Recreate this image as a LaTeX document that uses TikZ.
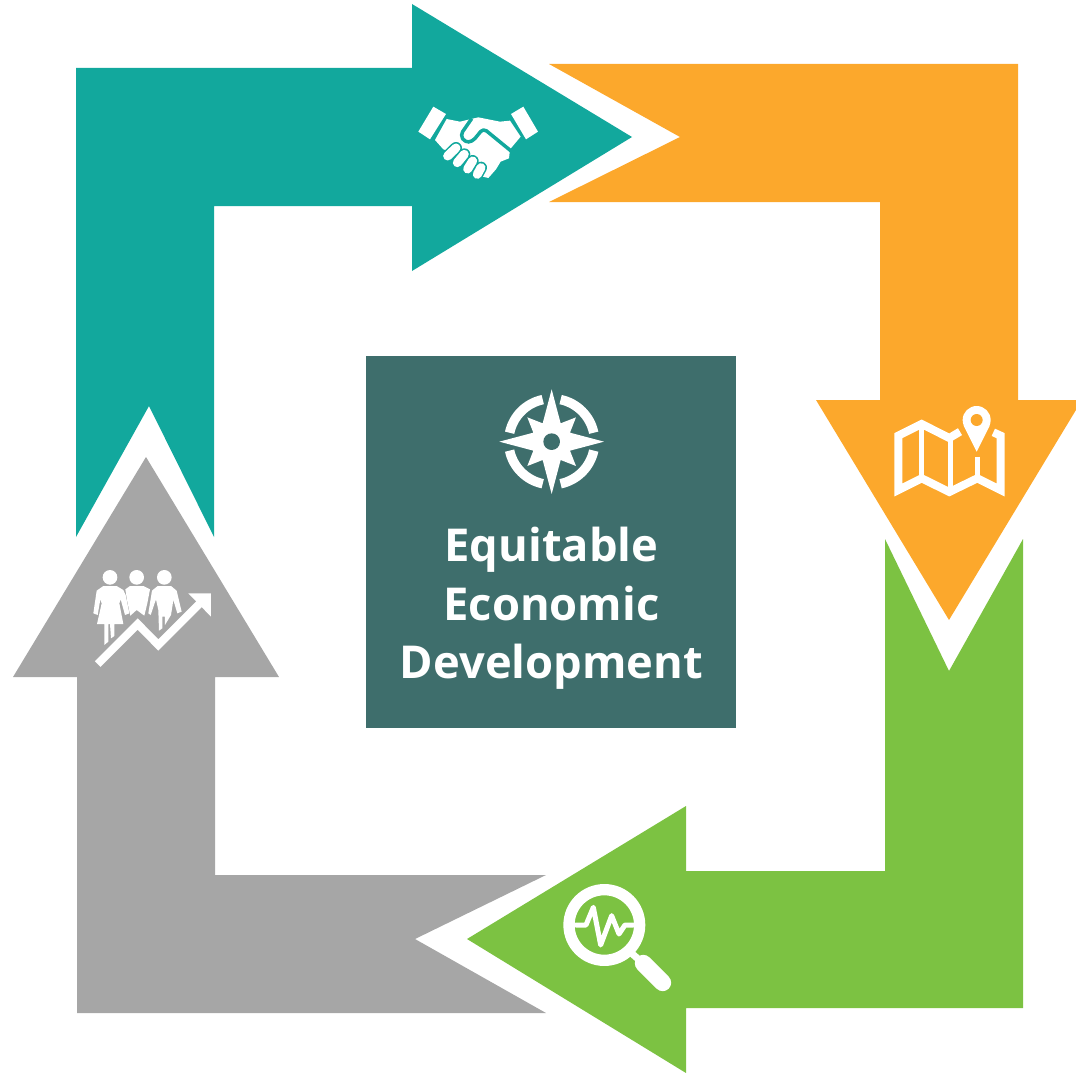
\documentclass[tikz,border=0pt]{standalone}
\usepackage{fontspec}
\setmainfont{Open Sans}
\usetikzlibrary{positioning}
\definecolor{tealc}{HTML}{12A89D}
\definecolor{orangec}{HTML}{FCA82C}
\definecolor{greenc}{HTML}{7CC242}
\definecolor{greyc}{HTML}{A6A6A6}
\definecolor{centerc}{HTML}{3E6E6C}
\tikzset{
  zoomed/.style={x=0.3333pt, y=-0.3333pt},
  ic/.style={fill=white, draw=none},
  title/.style={text=white, align=center, font=\fontsize{45.3}{58.5}\selectfont\bfseries, inner sep=0pt}
}
\begin{document}
\begin{tikzpicture}[x=1pt, y=-1pt]
	\useasboundingbox (0,0) rectangle (1076,1073);
	\clip (0,0) rectangle (1076,1073);
	% arrows
	\fill[tealc] (76,68) -- (412,68) -- (412,4) -- (632,137) -- (412,271) -- (412,206) -- (214,206) -- (214,537) -- (149,406) -- (76,537) -- cycle;
	\fill[orangec] (549,64) -- (1018,64) -- (1018,400) -- (1082,400) -- (949,620) -- (816,400) -- (880,400) -- (880,202) -- (549,202) -- (680,137) -- cycle;
	\fill[greenc] (1023,539) -- (1023,1008) -- (686,1008) -- (686,1073) -- (467,939) -- (686,806) -- (686,871) -- (885,871) -- (885,539) -- (949,671) -- cycle;
	\fill[greyc] (146,457) -- (279,677) -- (215,677) -- (215,875) -- (546,875) -- (415,939) -- (546,1013) -- (77,1013) -- (77,677) -- (13,677) -- cycle;
	% center box
	\fill[centerc] (366,356) rectangle (736,728);
	\node[title] (label) at (551.5,608.5) {Equitable\\Economic\\Development};
	% handshake
	\begin{scope}[shift={(400,90)}, zoomed]
		\fill[ic] (55,125) -- (100,50) -- (138,72) -- (90,148) -- cycle;
		\fill[ic] (333,72) -- (370,50) -- (414,125) -- (378,148) -- cycle;
		\fill[ic] (105,150) -- (140,87) -- (180,95) -- (235,82) -- (300,95) -- (330,92) -- (362,140) -- (330,178) -- (327,205) -- (302,215) -- (288,238) -- (265,264) -- (240,258) -- (150,185) -- (130,178) -- cycle;
		\draw[tealc, line width=3.5pt, line join=round, rounded corners=4pt] (215,86) -- (181,135) -- (195,157) -- (217,155) -- (250,115) -- (332,182);
		\foreach \a/\b/\c/\d in {143/198/168/174, 172/218/193/193, 203/237/218/213, 232/253/243/233} {
			\draw[tealc, line width=12pt, line cap=round] (\a,\b) -- (\c,\d);
			\draw[white, line width=9pt, line cap=round] (\a,\b) -- (\c,\d);
		}
	\end{scope}
	% map
	\begin{scope}[shift={(880,395)}, zoomed]
		\draw[white, line width=8pt, miter limit=10] (240,110) -- (208,129) -- (125,87) -- (55,122) -- (55,285) -- (125,250) -- (208,291) -- (292,250) -- (362,285) -- (362,122) -- (340,112);
		\draw[white, line width=5pt] (125,90) -- (125,250);
		\draw[white, line width=5pt] (211,130) -- (211,290);
		\draw[white, line width=5.5pt] (292,185) -- (292,250);
		\fill[ic] (290,75) circle[radius=42];
		\fill[ic] (290,170) -- (251,92) -- (329,92) -- cycle;
		\fill[orangec] (290,75) circle[radius=18];
	\end{scope}
	% magnifier
	\begin{scope}[shift={(550,870)}, zoomed]
		\draw[white, line width=11.3pt] (163,165) circle[radius=106];
		\draw[white, line width=7pt] (245,250) -- (285,285);
		\draw[white, line width=17pt, line cap=round] (280,280) -- (338,338);
		\draw[white, line width=5pt, line join=round, line cap=round] (78,165) -- (108,165) -- (130,112) -- (152,225) -- (185,137) -- (207,192) -- (225,165) -- (250,165);
	\end{scope}
	% people and rising arrow
	\begin{scope}[shift={(85,560)}, zoomed]
		\fill[ic] (75,52) circle[radius=22];
		\fill[ic] (155,52) circle[radius=22];
		\fill[ic] (238,52) circle[radius=22];
		\fill[ic] (55,78) -- (95,78) -- (115,90) -- (122,105) -- (133,160) -- (120,165) -- (107,118) -- (103,130) -- (115,192) -- (88,192) -- (88,228) -- (78,235) -- (75,192) -- (70,192) -- (70,245) -- (58,255) -- (58,192) -- (36,192) -- (50,130) -- (46,118) -- (38,165) -- (25,160) -- (35,92) -- cycle;
		\fill[ic] (135,78) -- (175,78) -- (195,88) -- (187,130) -- (178,167) -- (155,150) -- (136,167) -- (127,125) -- (121,88) -- cycle;
		\fill[ic] (218,78) -- (258,78) -- (275,92) -- (290,155) -- (277,160) -- (265,120) -- (262,140) -- (258,165) -- (240,195) -- (240,170) -- (232,170) -- (232,205) -- (222,212) -- (220,150) -- (213,118) -- (197,165) -- (190,160) -- (201,92) -- cycle;
		\draw[greyc, line width=13pt] (30,315) -- (158,192) -- (220,255) -- (345,130);
		\draw[white, line width=8pt] (38,312) -- (158,192) -- (220,255) -- (345,130);
		\fill[ic] (310,100) -- (378,100) -- (378,170) -- cycle;
	\end{scope}
	% compass
	\begin{scope}[shift={(490,380)}, zoomed]
		\fill[ic] (185,28) -- (212,130) -- (258,112) -- (240,158) -- (342,185) -- (240,212) -- (258,258) -- (212,240) -- (185,342) -- (158,240) -- (112,258) -- (130,212) -- (28,185) -- (130,158) -- (112,112) -- (158,130) -- cycle;
		\fill[centerc] (185,185) circle[radius=25];
		\foreach \s in {12,102,192,282} {
			\draw[white, line width=9.5pt] (185,185) ++(\s:129) arc[start angle=\s, delta angle=66, radius=129];
		}
	\end{scope}
\end{tikzpicture}
\end{document}
